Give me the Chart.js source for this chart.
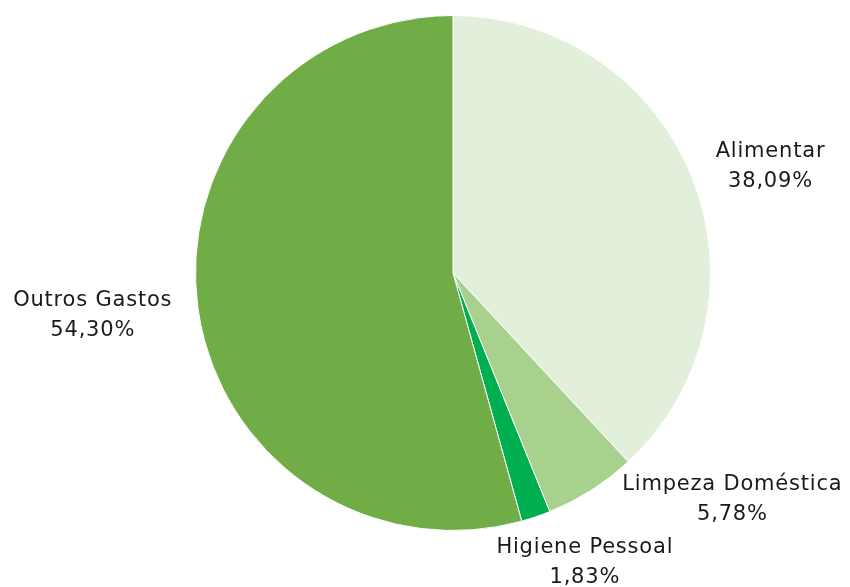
<!DOCTYPE html>
<html>
<head>
<meta charset="utf-8">
<script src="https://cdn.jsdelivr.net/npm/chart.js@4"></script>
<style>
  html, body { margin: 0; padding: 0; background: #fff; }
  #wrap { width: 850px; height: 587px; }
</style>
</head>
<body>
<div id="wrap"><canvas id="chart"></canvas></div>
<script>
// Chart data
const categories = ['Alimentar', 'Limpeza Doméstica', 'Higiene Pessoal', 'Outros Gastos'];
const shares = [38.09, 5.78, 1.83, 54.30];
const valueLabels = ['38,09%', '5,78%', '1,83%', '54,30%'];
const sliceColors = ['#E2EFDA', '#A9D18E', '#00B050', '#70AD47'];

// label anchors, relative to pie centre in units of radius
const labelAnchors = [[1.233, -0.415], [1.085, 0.88], [0.512, 1.124], [-1.399, 0.167]];

const pieLabels = {
    id: 'pieLabels',
    afterDraw(chart) {
        const ctx = chart.ctx;
        const meta = chart.getDatasetMeta(0);
        ctx.save();
        ctx.font = '21px "DejaVu Sans", sans-serif';
        ctx.letterSpacing = '0.8px';
        ctx.fillStyle = '#1a1a1a';
        ctx.textAlign = 'center';
        ctx.textBaseline = 'middle';
        meta.data.forEach((arc, i) => {
            const r = arc.outerRadius;
            const x = arc.x + labelAnchors[i][0] * r;
            const y = arc.y + labelAnchors[i][1] * r;
            ctx.fillText(categories[i], x, y - 15);
            ctx.fillText(valueLabels[i], x, y + 15);
        });
        ctx.restore();
    }
};

new Chart(document.getElementById('chart').getContext('2d'), {
    type: 'pie',
    data: {
        labels: categories,
        datasets: [{
            data: shares,
            backgroundColor: sliceColors,
            borderColor: '#ffffff',
            borderWidth: 1
        }]
    },
    options: {
        responsive: true,
        maintainAspectRatio: false,
        animation: false,
        layout: { padding: { top: 15, bottom: 56, left: 56, right: 0 } },
        plugins: {
            legend: { display: false },
            tooltip: { enabled: false }
        }
    },
    plugins: [pieLabels]
});
</script>
</body>
</html>
